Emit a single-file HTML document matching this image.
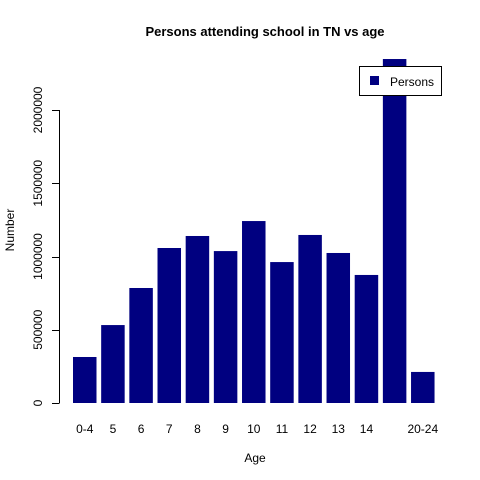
<!DOCTYPE html>
<html><head><meta charset="utf-8"><style>
body{margin:0;background:#fff;}
svg{display:block;font-family:"Liberation Sans",Arial,sans-serif;}
</style></head><body>
<svg id="chart" width="480" height="480" viewBox="0 0 480 480">
<rect x="0" y="0" width="480" height="480" fill="#fff"/>
<text x="265" y="36" text-anchor="middle" font-size="13" font-weight="bold">Persons attending school in TN vs age</text>
<text x="255" y="462" text-anchor="middle" font-size="12">Age</text>
<text x="14" y="230" text-anchor="middle" font-size="12" transform="rotate(-90 14 230)">Number</text>
<g id="bars"></g><g id="yaxis"></g><g id="xlabels"></g>
<g>
<rect x="359.5" y="66.5" width="82" height="29" fill="#fff" stroke="#000"/>
<rect x="370" y="76" width="9" height="9" fill="#000080"/>
<text x="390" y="86" font-size="12">Persons</text>
</g>
</svg>
<script>
const categories=["0-4","5","6","7","8","9","10","11","12","13","14","15-19","20-24"];
const labels=["0-4","5","6","7","8","9","10","11","12","13","14","","20-24"];
const values=[314000,532000,785000,1058000,1140000,1037000,1242000,962000,1147000,1024000,874000,2348000,212000];
const yTicks=[0,500000,1000000,1500000,2000000];
const ns="http://www.w3.org/2000/svg";
const y=v=>403-v*146.5/1000000;
const pitch=28.17,bw=23.5,x0=73;
const xl=i=>x0+i*pitch;
const bars=document.getElementById('bars');
values.forEach((v,i)=>{
 const r=document.createElementNS(ns,'rect');
 const top=Math.max(y(v),59);
 r.setAttribute('x',xl(i));r.setAttribute('y',top);
 r.setAttribute('width',bw);r.setAttribute('height',y(0)-top);
 r.setAttribute('fill','#000080');
 
 
 bars.appendChild(r);
 if(labels[i]){
 const t=document.createElementNS(ns,'text');
 t.setAttribute('x',xl(i)+bw/2);t.setAttribute('y',433);
 t.setAttribute('text-anchor','middle');t.setAttribute('font-size','12');
 t.textContent=labels[i];
 
 
 document.getElementById('xlabels').appendChild(t);}
});
const ya=document.getElementById('yaxis');
const l=document.createElementNS(ns,'line');
l.setAttribute('x1',59.5);l.setAttribute('x2',59.5);l.setAttribute('y1',y(0));l.setAttribute('y2',y(2000000));l.setAttribute('stroke','#000');


ya.appendChild(l);
yTicks.forEach(v=>{
 const tk=document.createElementNS(ns,'line');
 tk.setAttribute('x1',52);tk.setAttribute('x2',59.5);tk.setAttribute('y1',Math.round(y(v))+0.5);tk.setAttribute('y2',Math.round(y(v))+0.5);tk.setAttribute('stroke','#000');
 
 
 ya.appendChild(tk);
 const t=document.createElementNS(ns,'text');
 t.setAttribute('x',42);t.setAttribute('y',y(v));
 t.setAttribute('text-anchor','middle');t.setAttribute('font-size','12');
 t.setAttribute('transform','rotate(-90 42 '+y(v)+')');
 t.textContent=String(v);
 
 
 ya.appendChild(t);
});
</script>
</body></html>
